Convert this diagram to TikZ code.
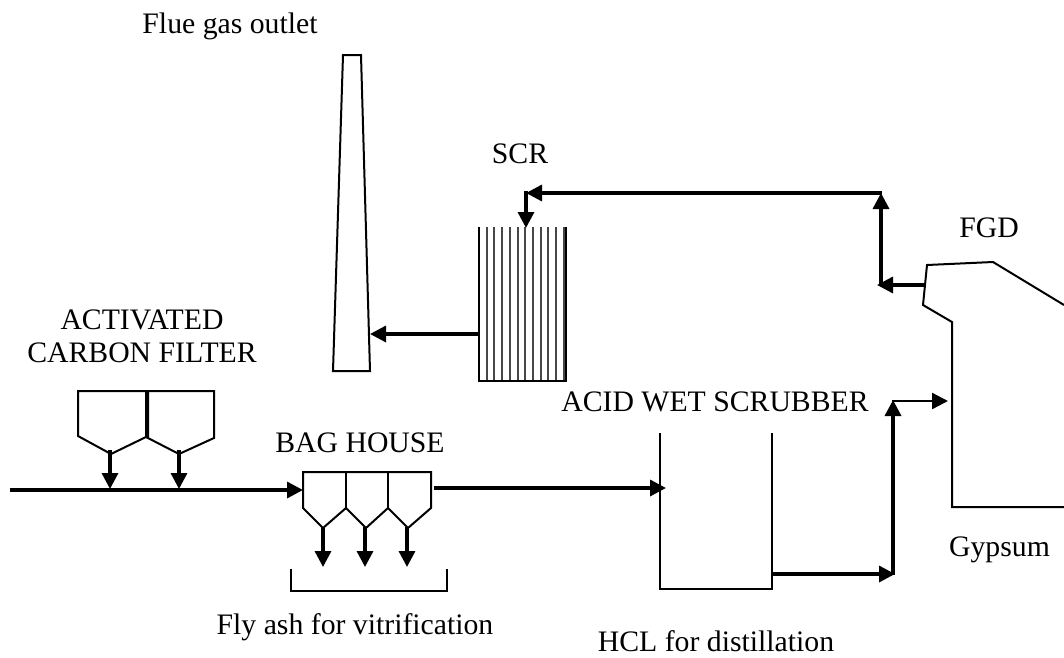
\documentclass[tikz,border=0pt]{standalone}
\usepackage{fontspec}
\setmainfont{Liberation Serif}
\usetikzlibrary{arrows.meta}
\tikzset{
 x=0.75pt,y=-0.75pt,
 outline/.style={draw=black,line width=1.5pt,line join=miter},
 flow/.style={draw=black,line width=2.5pt,-{Triangle[length=12pt,width=12pt]},shorten >=0pt},
 thinflow/.style={draw=black,line width=1.8pt,-{Triangle[length=12pt,width=12pt]}},
 lbl/.style={font=\fontsize{22.3}{24.5}\selectfont,inner sep=0pt,align=center,text=black},
 grid line/.style={draw=black!72,line width=1.5pt}
}
\begin{document}
\begin{tikzpicture}
\useasboundingbox (0,0) rectangle (1064,657);
% labels
\node[lbl] (flue) at (230,26) {Flue gas outlet};
\node[lbl] (scrl) at (520,154) {SCR};
\node[lbl] (fgdl) at (989,228) {FGD};
\node[lbl] (acf) at (142,336.5) {ACTIVATED\\CARBON FILTER};
\node[lbl] (bagl) at (360,443) {BAG HOUSE};
\node[lbl] (wetl) at (715,401.5) {ACID WET SCRUBBER};
\node[lbl] (gyp) at (999.5,550) {Gypsum};
\node[lbl] (fly) at (355,627) {Fly ash for vitrification};
\node[lbl] (hcl) at (716,641) {HCL for distillation};
% stack
\coordinate (st1) at (343,55); \coordinate (st2) at (361,55);
\coordinate (st3) at (370,371); \coordinate (st4) at (333,371);
\draw[outline] (st1) -- (st2) -- (st3) -- (st4) -- cycle;
% SCR
\foreach \x in {479,486.7,494.4,502.1,509.8,517.5,525.2,532.9,540.6,548.3,556,563.7}
  \draw[grid line] (\x,227) -- (\x,381);
\coordinate (scrT) at (526,228); \coordinate (scrL) at (479,334);
\draw[outline] (479,227) -- (479,381) -- (566,381) -- (566,227);
% FGD
\coordinate (f1) at (927,265); \coordinate (f2) at (993,262);
\coordinate (f3) at (1064,305); \coordinate (f4) at (923,305);
\coordinate (f5) at (952,322); \coordinate (f6) at (952,507);
\coordinate (f7) at (1064,507);
\draw[outline] (f3) -- (f2) -- (f1) -- (f4) -- (f5) -- (f6) -- (f7);
% scrubber
\coordinate (w1) at (660,433); \coordinate (w2) at (660,589);
\coordinate (w3) at (772,589); \coordinate (w4) at (772,433);
\draw[outline] (w1) -- (w2) -- (w3) -- (w4);
% bag house
\draw[outline] (303,508) -- (303,472) -- (431,472) -- (431,508) -- (408,528) -- (388,508) -- (366,528) -- (346,508) -- (323,528) -- cycle;
\draw[outline] (346,472) -- (346,508) (388,472) -- (388,508);
% activated carbon filter
\draw[outline] (146,437) -- (146,391) -- (78,391) -- (78,436) -- (111,454) -- (146,437) -- (179,454) -- (214,438) -- (214,391) -- (148,391) -- (148,437);
% bracket
\draw[outline] (291,569) -- (291,591) -- (447,591) -- (447,569);
% connectors
\coordinate (in) at (10,490); \coordinate (bagI) at (303,490);
\draw[flow] (in) -- (bagI);
\coordinate (a1s) at (110,450); \coordinate (a1e) at (110,489);
\coordinate (a2s) at (179,450); \coordinate (a2e) at (179,489);
\draw[flow] (a1s) -- (a1e);
\draw[flow] (a2s) -- (a2e);
\coordinate (b1s) at (323,527); \coordinate (b1e) at (323,567);
\coordinate (b2s) at (365,527); \coordinate (b2e) at (365,567);
\coordinate (b3s) at (407,527); \coordinate (b3e) at (407,567);
\draw[flow] (b1s) -- (b1e);
\draw[flow] (b2s) -- (b2e);
\draw[flow] (b3s) -- (b3e);
\coordinate (bagO) at (434,488); \coordinate (wetI) at (666,488);
\draw[flow] (bagO) -- (wetI);
\coordinate (wetO) at (772,574); \coordinate (j1) at (895,574);
\draw[flow] (wetO) -- (j1);
\coordinate (j1b) at (893,575); \coordinate (j2) at (893,400);
\draw[flow] (j1b) -- (j2);
\coordinate (j2b) at (892,401); \coordinate (fgdI) at (948,401);
\draw[thinflow] (j2b) -- (fgdI);
\coordinate (fgdO) at (925,285); \coordinate (j3) at (877,285);
\draw[flow] (fgdO) -- (j3);
\coordinate (j3b) at (881,286); \coordinate (j4) at (881,193);
\draw[flow] (j3b) -- (j4);
\coordinate (j4b) at (882,193); \coordinate (j5) at (526,193);
\draw[flow] (j4b) -- (j5);
\coordinate (j5b) at (526,191); \draw[flow] (j5b) -- (scrT);
\coordinate (stR) at (370,334);
\draw[flow] (scrL) -- (stR);
\end{tikzpicture}
\end{document}
